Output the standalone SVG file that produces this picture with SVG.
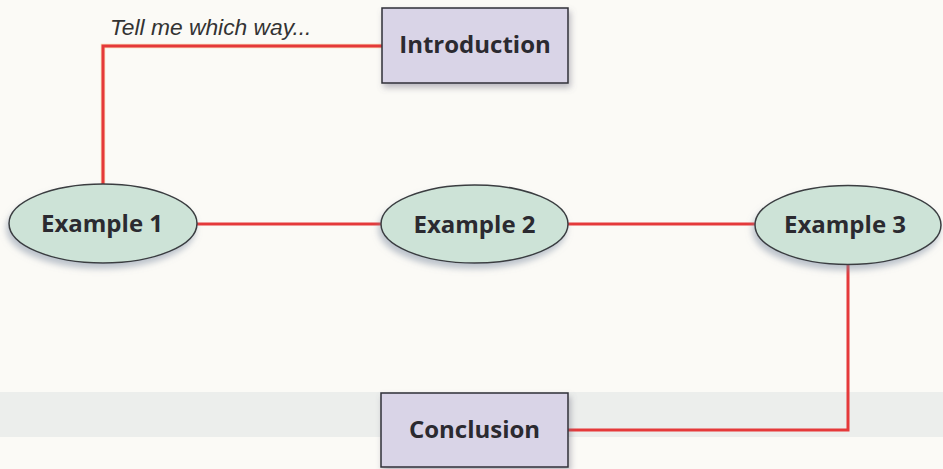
<svg xmlns="http://www.w3.org/2000/svg" width="943" height="469" viewBox="0 0 943 469">
<defs>
<style>
.lbl{font-family:"Open Sans","Noto Sans","Liberation Sans",sans-serif;font-weight:700;font-size:24px;fill:#2b2a30;text-anchor:middle}
.note{font-family:"Liberation Sans","Arial",sans-serif;font-style:italic;font-size:22.8px;fill:#333}
.box{fill:#d9d4e7;stroke:#2f2f38;stroke-width:1.5}
.oval{fill:#cde3d7;stroke:#3a3d40;stroke-width:1.5}
.wire{fill:none;stroke:#e5393a;stroke-width:3}
.wire2{fill:none;stroke:#f3a03a;stroke-width:4.5}
</style>
<filter id="sh" x="-20%" y="-30%" width="140%" height="170%">
<feDropShadow dx="-2" dy="5" stdDeviation="3" flood-color="#7c8aa0" flood-opacity="0.5"/>
</filter>
<filter id="shb" x="-20%" y="-30%" width="140%" height="170%">
<feDropShadow dx="2" dy="4" stdDeviation="3" flood-color="#6e6a80" flood-opacity="0.45"/>
</filter>
</defs>
<rect width="943" height="469" fill="#fbfaf6"/>
<rect x="0" y="392" width="943" height="45" fill="#eceeec"/>
<g id="connectors">
<path class="wire2" d="M382 46 H103 V185" opacity="0.35"/>
<path class="wire" d="M382 46 H103 V185"/>
<path class="wire" d="M197 224 H381"/>
<path class="wire" d="M568 224 H755"/>
<path class="wire" d="M848 265 V430 H568"/>
</g>
<g id="note"><text class="note" x="110" y="35">Tell me which way...</text></g>
<g id="introduction">
<rect class="box" x="382" y="8" width="186" height="75" filter="url(#shb)"/>
<text class="lbl" x="475" y="53">Introduction</text>
</g>
<g id="example1">
<ellipse class="oval" cx="103" cy="223.5" rx="94" ry="39.5" filter="url(#sh)"/>
<text class="lbl" x="102" y="232">Example 1</text>
</g>
<g id="example2">
<ellipse class="oval" cx="474.5" cy="224" rx="93.5" ry="39" filter="url(#sh)"/>
<text class="lbl" x="474.5" y="233">Example 2</text>
</g>
<g id="example3">
<ellipse class="oval" cx="848" cy="225" rx="93" ry="39.5" filter="url(#sh)"/>
<text class="lbl" x="845" y="233">Example 3</text>
</g>
<g id="conclusion">
<rect class="box" x="381" y="393" width="187" height="74" filter="url(#shb)"/>
<text class="lbl" x="474.5" y="438">Conclusion</text>
</g>
</svg>
